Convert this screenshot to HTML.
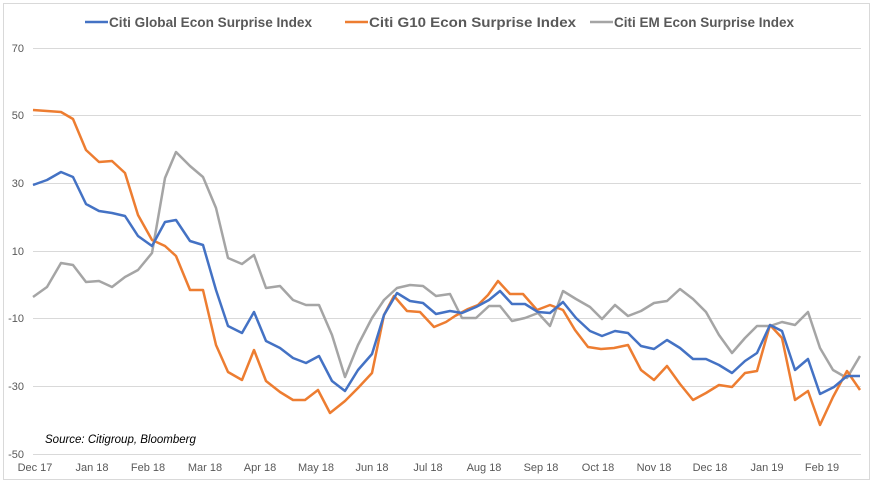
<!DOCTYPE html>
<html><head><meta charset="utf-8"><style>
html,body{margin:0;padding:0;background:#fff;}
svg{display:block;font-family:"Liberation Sans",Calibri,sans-serif;}
</style></head><body>
<svg width="876" height="485" viewBox="0 0 876 485" xmlns="http://www.w3.org/2000/svg">
<rect x="3.5" y="3.5" width="866" height="476" fill="#fff" stroke="#d9d9d9"/>
<g stroke="#d9d9d9" stroke-width="1">
<line x1="33" x2="861" y1="48.5" y2="48.5"/>
<line x1="33" x2="861" y1="115.5" y2="115.5"/>
<line x1="33" x2="861" y1="183.5" y2="183.5"/>
<line x1="33" x2="861" y1="251.5" y2="251.5"/>
<line x1="33" x2="861" y1="318.5" y2="318.5"/>
<line x1="33" x2="861" y1="386.5" y2="386.5"/>
<line x1="33" x2="861" y1="454.5" y2="454.5"/>
</g>
<g fill="#595959" font-size="11" text-anchor="end">
<text x="24" y="52">70</text><text x="24" y="119">50</text><text x="24" y="187">30</text>
<text x="24" y="255">10</text><text x="24" y="322">-10</text><text x="24" y="390">-30</text><text x="24" y="458">-50</text>
</g>
<g fill="#595959" font-size="11" text-anchor="middle">
<text x="35" y="471">Dec 17</text><text x="92" y="471">Jan 18</text><text x="148" y="471">Feb 18</text>
<text x="205" y="471">Mar 18</text><text x="260" y="471">Apr 18</text><text x="316" y="471">May 18</text>
<text x="372" y="471">Jun 18</text><text x="428" y="471">Jul 18</text><text x="484" y="471">Aug 18</text>
<text x="541" y="471">Sep 18</text><text x="598" y="471">Oct 18</text><text x="654" y="471">Nov 18</text>
<text x="710" y="471">Dec 18</text><text x="767" y="471">Jan 19</text><text x="822" y="471">Feb 19</text>
</g>
<text x="45" y="443" font-size="11.5" font-style="italic" fill="#000">Source: Citigroup, Bloomberg</text>
<g font-size="14" font-weight="bold" fill="#595959">
<line x1="85" x2="108" y1="22" y2="22" stroke="#4472c4" stroke-width="2.5"/>
<text x="109" y="27" textLength="203" lengthAdjust="spacingAndGlyphs">Citi Global Econ Surprise Index</text>
<line x1="345" x2="368" y1="22" y2="22" stroke="#ed7d31" stroke-width="2.5"/>
<text x="369" y="27" textLength="207" lengthAdjust="spacingAndGlyphs">Citi G10 Econ Surprise Index</text>
<line x1="590" x2="613" y1="22" y2="22" stroke="#a5a5a5" stroke-width="2.5"/>
<text x="614" y="27" textLength="180" lengthAdjust="spacingAndGlyphs">Citi EM Econ Surprise Index</text>
</g>
<g fill="none" stroke-width="2.5" stroke-linejoin="round">
<polyline stroke="#a5a5a5" points="33,297 47,287 61,263 73,265 86,282 99,281 112,287 125,277 138,270 152,253 165,178 176,152 190,166 203,177 216,208 228,258 242,264 254,255 266,288 280,286 293,300 306,305 319,305 332,335 345,377 358,345 372,318 384,300 397,288 410,285 423,286 436,296 450,294 462,318 476,318 489,306 500,306 512,321 525,318 538,313 550,326 563,291 576,299 590,307 602,319 615,305 628,316 641,311 654,303 667,301 680,289 693,299 706,312 719,335 732,353 745,338 757,326 770,326 782,322 795,325 808,312 820,348 833,370 847,378 860,356"/>
<polyline stroke="#ed7d31" points="33,110 47,111 61,112 73,119 86,150 99,162 112,161 125,173 138,215 152,240 165,246 176,256 190,290 203,290 216,345 228,372 242,380 254,350 266,381 280,392 293,400 305,400 318,390 330,413 345,401 358,388 372,373 384,315 394,296 407,311 420,312 434,327 446,322 455,316 468,309 478,305 488,295 498,281 510,294 523,294 537,310 550,305 563,310 575,330 588,347 601,349 614,348 628,345 641,370 654,380 667,366 680,384 693,400 706,393 719,385 732,387 745,373 757,371 770,325 782,338 795,400 808,391 820,425 833,397 847,371 860,390"/>
<polyline stroke="#4472c4" points="33,185 47,180 61,172 73,177 86,204 99,211 112,213 125,216 138,236 152,246 165,222 176,220 190,241 203,245 216,290 228,326 242,333 254,312 266,341 280,348 293,358 306,363 319,356 332,381 345,391 358,370 372,354 384,315 397,293 410,301 423,303 436,314 450,311 462,313 476,307 489,300 500,291 512,304 525,304 538,312 550,313 563,302 576,318 590,331 602,336 615,331 628,333 641,346 654,349 667,340 680,348 693,359 706,359 719,365 732,373 745,361 757,353 770,325 782,331 795,370 808,359 820,394 834,387 847,376 860,376"/>
</g>
</svg>
</body></html>
